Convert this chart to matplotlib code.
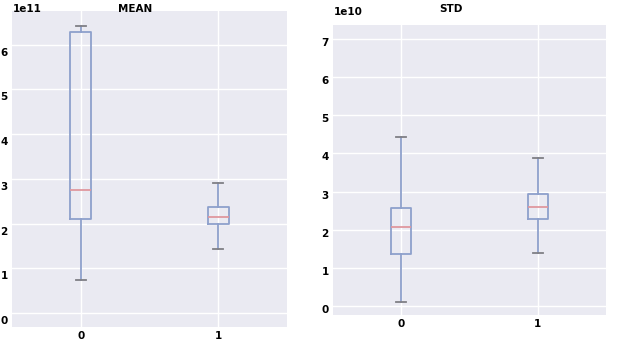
import matplotlib
matplotlib.use("Agg")
import matplotlib.pyplot as plt
import matplotlib.transforms as mtransforms
from matplotlib.ticker import ScalarFormatter

# ---- data ----
groups = ["0", "1"]

mean_whislo = [0.74e11, 1.43e11]
mean_q1 = [2.10e11, 1.99e11]
mean_med = [2.75e11, 2.14e11]
mean_q3 = [6.27e11, 2.36e11]
mean_whishi = [6.42e11, 2.91e11]

std_whislo = [0.10e10, 1.38e10]
std_q1 = [1.36e10, 2.29e10]
std_med = [2.07e10, 2.59e10]
std_q3 = [2.58e10, 2.93e10]
std_whishi = [4.42e10, 3.87e10]

box_col = "#8EA0CC"
med_col = "#E0979E"
cap_col = "#7F7F85"
bg = "#EAEAF2"

fig = plt.figure(figsize=(6.23, 3.44), dpi=100)
fig.patch.set_facecolor("white")

ax1 = fig.add_axes([12 / 623, 17 / 344, 275 / 623, 316 / 344])
ax2 = fig.add_axes([333 / 623, 29 / 344, 273 / 623, 290 / 344])


def draw(ax, lo, q1, med, q3, hi, ylim, title, tx, tpad, ytick_shift, off_shift):
    stats = []
    for i, g in enumerate(groups):
        stats.append(dict(label=g, whislo=lo[i], q1=q1[i], med=med[i],
                          q3=q3[i], whishi=hi[i], fliers=[]))
    ax.bxp(stats, positions=[1, 2], widths=0.15, showfliers=False,
           boxprops=dict(color=box_col, linewidth=1.3),
           whiskerprops=dict(color=box_col, linewidth=1.3),
           capprops=dict(color=cap_col, linewidth=1.3),
           medianprops=dict(color=med_col, linewidth=1.3))
    ax.set_facecolor(bg)
    for s in ax.spines.values():
        s.set_visible(False)
    ax.set_xlim(0.5, 2.5)
    ax.set_ylim(*ylim)
    ax.grid(True, color="white", linewidth=1.0)
    ax.set_axisbelow(True)
    ax.tick_params(length=0, labelsize=7.5, pad=3)
    for lab in ax.get_xticklabels() + ax.get_yticklabels():
        lab.set_fontweight("bold")
    fmt = ScalarFormatter(useMathText=False)
    fmt.set_scientific(True)
    fmt.set_powerlimits((0, 0))
    ax.yaxis.set_major_formatter(fmt)
    ot = ax.yaxis.get_offset_text()
    ot.set_fontsize(7.5)
    ot.set_fontweight("bold")
    ot.set_transform(ot.get_transform() +
                     mtransforms.ScaledTranslation(0.01, off_shift / 100, fig.dpi_scale_trans))
    ax.set_title(title, x=tx, y=1.0, pad=tpad, fontsize=7.5, fontweight="bold")
    off = mtransforms.ScaledTranslation(0, -ytick_shift / 100, fig.dpi_scale_trans)
    for lab in ax.get_yticklabels():
        lab.set_transform(lab.get_transform() + off)


draw(ax1, mean_whislo, mean_q1, mean_med, mean_q3, mean_whishi,
     (-0.31e11, 6.75e11), "MEAN", 0.447, -0.7, 7, -5)
draw(ax2, std_whislo, std_q1, std_med, std_q3, std_whishi,
     (-0.24e10, 7.37e10), "STD", 0.432, 9.4, 3, 6)

fig.savefig("out.png", dpi=100, facecolor="white")
